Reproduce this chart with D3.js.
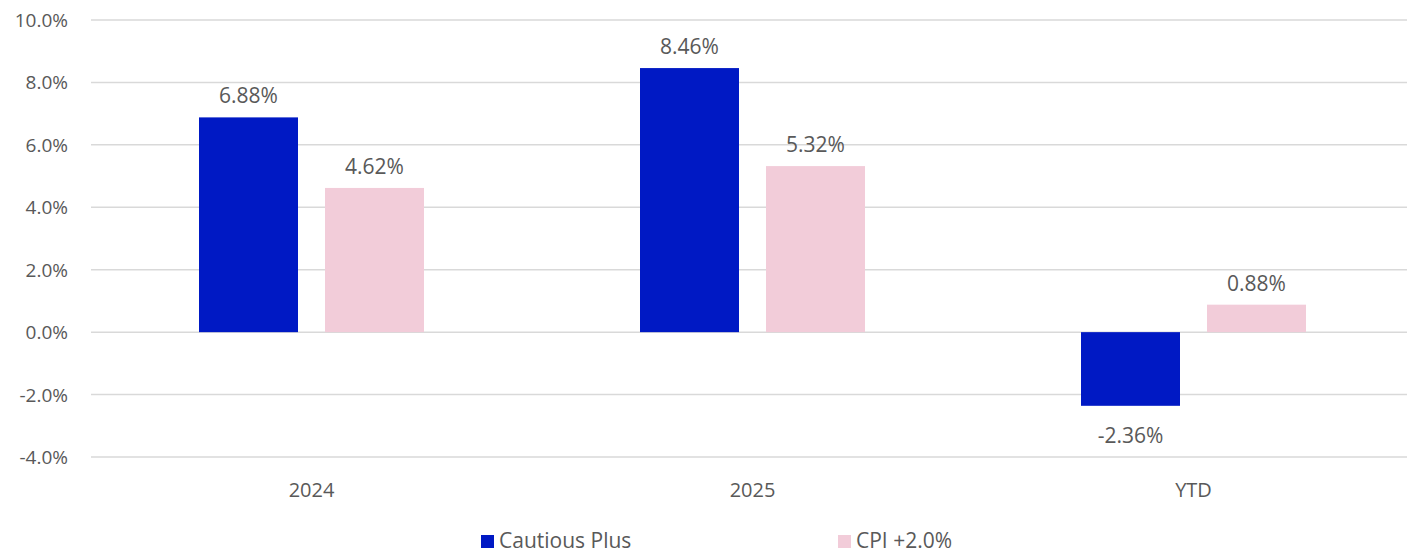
<!DOCTYPE html>
<html lang="en">
<head>
    <meta charset="UTF-8">
    <title>Cautious Plus vs CPI</title>
    <style>
        body{
            margin:0px;
            background-color: #ffffff;
        }
        svg text{
            font-family: "Open Sans", "Noto Sans", sans-serif;
            fill: #595959;
        }
    </style>
</head>
<body>
    <svg></svg>
    <script src="https://d3js.org/d3.v7.min.js"></script>
    <script>
        // Data
        const categories = ["2024", "2025", "YTD"];
        const seriesNames = ["Cautious Plus", "CPI +2.0%"];
        const cautiousPlus = [6.88, 8.46, -2.36];
        const cpiPlus2 = [4.62, 5.32, 0.88];
        const yTicks = [-4, -2, 0, 2, 4, 6, 8, 10];

        const colors = ["#0019c4", "#f2ccd9"];

        let width = 1407, height = 553;

        let svg = d3.select("svg")
            .attr("width", width)
            .attr("height", height);

        const rows = categories.map((c, i) => ({cat: c, vals: [cautiousPlus[i], cpiPlus2[i]]}));

        const x = d3.scaleBand()
            .domain(categories)
            .range([91, 1414]);

        const y = d3.scaleLinear()
            .domain([-4, 10])
            .range([457, 20]);

        const barW = 99, gap = 27;

        // gridlines
        svg.append("g")
            .selectAll("line")
            .data(yTicks)
            .enter()
            .append("line")
            .attr("x1", 91)
            .attr("x2", width)
            .attr("y1", d => y(d))
            .attr("y2", d => y(d))
            .attr("stroke", "#d9d9d9")
            .attr("stroke-width", 1.5);

        // y tick labels
        svg.append("g")
            .selectAll("text")
            .data(yTicks)
            .enter()
            .append("text")
            .attr("x", 68)
            .attr("y", d => y(d) + 7)
            .attr("text-anchor", "end")
            .attr("font-size", 19)
            .text(d => d.toFixed(1) + "%");

        // bars
        const groups = svg.append("g")
            .selectAll("g")
            .data(rows)
            .enter()
            .append("g");

        const offsets = [-(barW + gap / 2), gap / 2];

        groups.selectAll("rect")
            .data(d => d.vals.map((v, j) => ({cat: d.cat, v: v, j: j})))
            .enter()
            .append("rect")
            .attr("x", d => x(d.cat) + x.bandwidth() / 2 + offsets[d.j])
            .attr("width", barW)
            .attr("y", d => y(Math.max(0, d.v)))
            .attr("height", d => Math.abs(y(d.v) - y(0)))
            .attr("fill", d => colors[d.j]);

        groups.selectAll("text")
            .data(d => d.vals.map((v, j) => ({cat: d.cat, v: v, j: j})))
            .enter()
            .append("text")
            .attr("x", d => x(d.cat) + x.bandwidth() / 2 + offsets[d.j] + barW / 2)
            .attr("y", d => d.v >= 0 ? y(d.v) - 14 : y(d.v) + 37)
            .attr("text-anchor", "middle")
            .attr("font-size", 21)
            .text(d => d.v.toFixed(2) + "%");

        // category labels
        svg.append("g")
            .selectAll("text")
            .data(categories)
            .enter()
            .append("text")
            .attr("x", d => x(d) + x.bandwidth() / 2)
            .attr("y", 497)
            .attr("text-anchor", "middle")
            .attr("font-size", 20)
            .text(d => d);

        // legend
        const legendX = [481, 838];
        const legend = svg.append("g")
            .selectAll("g")
            .data(seriesNames)
            .enter()
            .append("g")
            .attr("transform", (d, i) => "translate(" + legendX[i] + ",535)");

        legend.append("rect")
            .attr("width", 13)
            .attr("height", 13)
            .attr("fill", (d, i) => colors[i]);

        legend.append("text")
            .attr("x", 18)
            .attr("y", 13)
            .attr("font-size", 21)
            .text(d => d);
    </script>
</body>
</html>
